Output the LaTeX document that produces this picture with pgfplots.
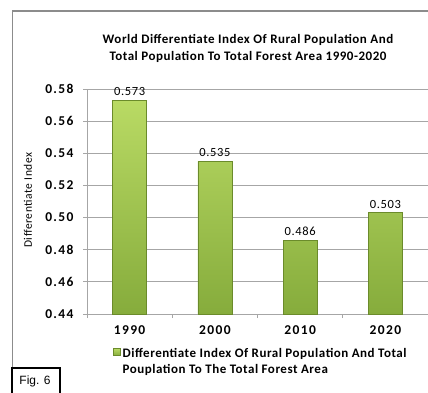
\documentclass[border=0pt]{standalone}
\usepackage{pgfplots}
\pgfplotsset{compat=1.18}
\usepackage{fontspec}
\setmainfont{Carlito}
\newfontfamily\titlefont{Carlito}[LetterSpace=4]
\newfontfamily\tickfont{Carlito}[LetterSpace=10]
\newfontfamily\valfont{Carlito}[LetterSpace=5]
\newfontfamily\arialfont{Liberation Sans}
\definecolor{bartop}{HTML}{B9DA64}
\definecolor{barbot}{HTML}{86AC3C}
\definecolor{baredge}{HTML}{6B8B2B}
\definecolor{gridc}{HTML}{A6A6A6}
\definecolor{framec}{HTML}{8C8C8C}
\begin{document}
\begin{tikzpicture}[x=1pt,y=1pt]
\useasboundingbox (0,0) rectangle (428,392);
\clip (0,0) rectangle (428,392);
\draw[color=framec, line width=1.4pt] (12.5,-10) -- (12.5,381) -- (440,381);
\node[font=\titlefont\bfseries\fontsize{13}{17}\selectfont, align=center] at (248,343.5)
  {World Differentiate Index Of Rural Population And\\Total Population To Total Forest Area 1990-2020};
\node[font=\valfont\fontsize{11.5}{12}\selectfont, rotate=90] at (28,192) {Differentiate Index};
\begin{axis}[
  at={(87pt,78pt)}, anchor=south west,
  scale only axis, width=341pt, height=225pt,
  xmin=-0.5, xmax=3.5,
  ymin=0, ymax=0.14,
  y filter/.expression={y-0.44},
  axis x line*=bottom, axis y line*=left,
  axis line style={draw=gridc, line width=0.8pt},
  ytick={0,0.02,0.04,0.06,0.08,0.10,0.12,0.14},
  yticklabels={0.44,0.46,0.48,0.50,0.52,0.54,0.56,0.58},
  yticklabel style={font=\tickfont\bfseries\fontsize{13.5}{14}\selectfont, xshift=-6pt},
  xtick={-0.5,0.5,1.5,2.5,3.5}, xticklabels={},
  extra x ticks={0,1,2,3},
  extra x tick labels={1990,2000,2010,2020},
  extra x tick style={major tick length=0pt, grid=none,
     xticklabel style={font=\tickfont\bfseries\fontsize{13.5}{14}\selectfont, yshift=-8pt}},
  tick align=outside, major tick length=4pt,
  tick style={draw=gridc, line width=0.8pt},
  ymajorgrids, grid style={draw=gridc, line width=0.8pt},
  clip=false,
  legend style={at={(0.076,-0.13)}, anchor=north west, draw=none, fill=none,
     font=\titlefont\bfseries\fontsize{13}{16.5}\selectfont, inner sep=0pt,
     legend cell align=left},
  legend image code/.code={\shade[top color=bartop, bottom color=barbot] (0pt,-3.5pt) rectangle (7pt,3.5pt);},
]
\addplot[ybar, bar width=34pt, draw=baredge, line width=0.6pt,
  top color=bartop, bottom color=barbot,
  point meta=explicit symbolic,
  nodes near coords,
  nodes near coords style={font=\valfont\fontsize{12.5}{13}\selectfont, text=black, yshift=1pt}]
  coordinates {(0,0.573) [0.573] (1,0.535) [0.535] (2,0.486) [0.486] (3,0.503) [0.503]};
\addlegendentry{\begin{tabular}[t]{@{}l@{}}Differentiate Index Of Rural Population And Total\\Pouplation To The Total Forest Area\end{tabular}}
\end{axis}
\draw[black, line width=1.5pt, fill=white] (12,-5) rectangle (60,24);
\node[font=\arialfont\fontsize{12}{13}\selectfont] at (35,11) {Fig. 6};
\end{tikzpicture}
\end{document}
